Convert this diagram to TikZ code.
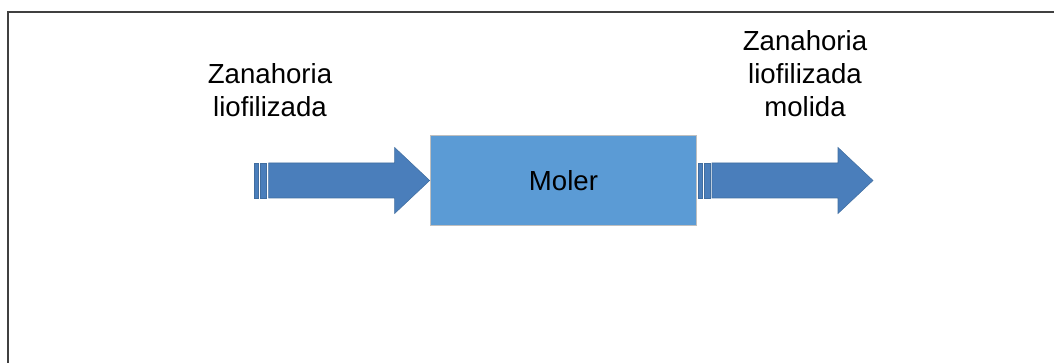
\documentclass[tikz,border=0pt]{standalone}
\usepackage{fontspec}
\setmainfont{Liberation Sans}[Ligatures=NoCommon]
\usetikzlibrary{positioning}

\definecolor{boxblue}{RGB}{91,155,213}
\definecolor{arrowblue}{RGB}{74,126,187}
\definecolor{arrowedge}{RGB}{65,110,160}
\definecolor{framegray}{RGB}{64,64,64}

\tikzset{
  % striped block arrow, origin at its tip
  pics/stripearrow/.style={code={
    \fill[arrowbody] (-175,-17.5) rectangle (-171,17.5);
    \fill[arrowbody] (-169,-17.5) rectangle (-163,17.5);
    \fill[arrowbody] (-161,-17.5) -- (-35,-17.5) -- (-35,-33) -- (0,0)
      -- (-35,33) -- (-35,17.5) -- (-161,17.5) -- cycle;
  }}
}

\begin{document}
\begin{tikzpicture}[
  x=0.75pt,
  y=-0.75pt,
  font=\fontsize{20.7}{24.8}\selectfont,
  procbox/.style={draw=black!25, line width=0.8pt, fill=boxblue, minimum width=200pt, minimum height=68pt},
  arrowbody/.style={fill=arrowblue, draw=arrowedge, line width=0.4pt},
  lab/.style={align=center, inner sep=0pt}
]
  \useasboundingbox (0,0) rectangle (1054,363);
  \draw[framegray, line width=1.1pt] (8,363) |- (1054,12);

  \node[procbox] (moler) at (563.5,180.5) {Moler};
  \coordinate (outtip) at (873,180.5);

  \node[lab] (inlabel) at (270,90.5) {Zanahoria\\liofilizada};
  \node[lab] (outlabel) at (805,73.5) {Zanahoria\\liofilizada\\molida};

  \pic at (moler.west) {stripearrow};
  \pic at (outtip) {stripearrow};
\end{tikzpicture}
\end{document}
